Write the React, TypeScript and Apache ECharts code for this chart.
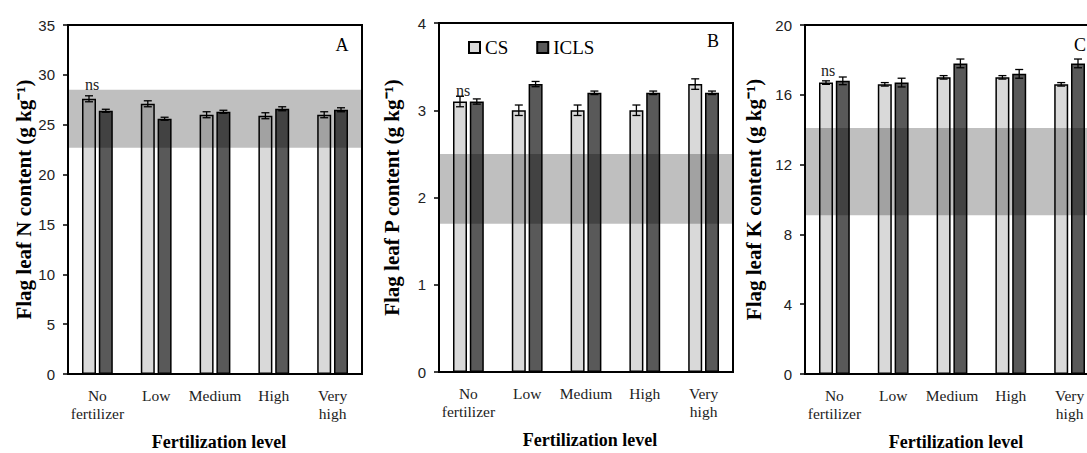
import React, { useEffect, useRef } from 'react';
import * as echarts from 'echarts';

// ---------- data ----------
const categories = ['No\nfertilizer', 'Low', 'Medium', 'High', 'Very\nhigh'];
const seriesNames = ['CS', 'ICLS'];

// Panel A: N content
const nCS = [27.6, 27.1, 26.0, 25.9, 26.0];
const nCSErr = [0.3, 0.3, 0.3, 0.3, 0.3];
const nICLS = [26.4, 25.6, 26.3, 26.6, 26.5];
const nICLSErr = [0.15, 0.15, 0.15, 0.2, 0.2];
const nRange = [22.7, 28.5];
const nAxis = { max: 35, interval: 5 };

// Panel B: P content
const pCS = [3.1, 3.0, 3.0, 3.0, 3.3];
const pCSErr = [0.06, 0.06, 0.06, 0.06, 0.06];
const pICLS = [3.1, 3.3, 3.2, 3.2, 3.2];
const pICLSErr = [0.03, 0.03, 0.02, 0.02, 0.02];
const pRange = [1.7, 2.5];
const pAxis = { max: 4, interval: 1 };

// Panel C: K content
const kCS = [16.7, 16.6, 17.0, 17.0, 16.6];
const kCSErr = [0.1, 0.1, 0.1, 0.1, 0.1];
const kICLS = [16.8, 16.7, 17.8, 17.2, 17.8];
const kICLSErr = [0.22, 0.25, 0.25, 0.25, 0.25];
const kRange = [9.1, 14.1];
const kAxis = { max: 20, interval: 4 };

const yTitles = [
  'Flag leaf N content (g kg\u207B\u00B9)',
  'Flag leaf P content (g kg\u207B\u00B9)',
  'Flag leaf K content (g kg\u207B\u00B9)',
];
const xTitle = 'Fertilization level';
const panelLetters = ['A', 'B', 'C'];
const sigLabel = 'ns';

// ---------- styles ----------
const SERIF = "'Liberation Serif', 'Times New Roman', serif";
const SANS = "'Liberation Sans', Arial, sans-serif";
const COLORS = ['#d9d9d9', '#595959'];
const BAR_W = 14;
const BAR_GAP = 0.2;
const OFFSET = (BAR_W * (1 + BAR_GAP)) / 2;

const panels = [
  { cs: nCS, csErr: nCSErr, icls: nICLS, iclsErr: nICLSErr, range: nRange, axis: nAxis },
  { cs: pCS, csErr: pCSErr, icls: pICLS, iclsErr: pICLSErr, range: pRange, axis: pAxis },
  { cs: kCS, csErr: kCSErr, icls: kICLS, iclsErr: kICLSErr, range: kRange, axis: kAxis },
];

const layout = [
  { left: 68, top: 25, nameGap: 30, letter: [342, 45], ns: [92, 84] },
  { left: 439, top: 23, nameGap: 37, letter: [713, 41], ns: [463, 90] },
  { left: 805, top: 25, nameGap: 41, letter: [1080, 45], ns: [828, 70] },
];
const GRID_W = 294;
const GRID_H = 349;

function errorSeries(values: number[], errs: number[], gi: number, offset: number, name: string) {
  return {
    type: 'custom',
    name,
    xAxisIndex: gi,
    yAxisIndex: gi,
    z: 20,
    silent: true,
    encode: { x: 0, y: 1 },
    data: values.map((v, i) => [i, v, errs[i]]),
    renderItem: (params: any, api: any) => {
      const idx = api.value(0);
      const v = api.value(1);
      const e = api.value(2);
      const top = api.coord([idx, v + e]);
      const bot = api.coord([idx, v - e]);
      const x = top[0] + offset;
      const cap = 4;
      const style = { stroke: '#000', lineWidth: 1.3, fill: 'none' };
      return {
        type: 'group',
        children: [
          { type: 'line', shape: { x1: x, y1: top[1], x2: x, y2: bot[1] }, style },
          { type: 'line', shape: { x1: x - cap, y1: top[1], x2: x + cap, y2: top[1] }, style },
          { type: 'line', shape: { x1: x - cap, y1: bot[1], x2: x + cap, y2: bot[1] }, style },
        ],
      };
    },
  };
}

function bandSeries(range: number[], gi: number) {
  return {
    type: 'custom',
    name: 'band-' + gi,
    xAxisIndex: gi,
    yAxisIndex: gi,
    z: 10,
    silent: true,
    encode: { x: 0, y: [1, 2] },
    data: [[0, range[0], range[1]]],
    renderItem: (params: any, api: any) => {
      const cs = params.coordSys;
      const lo = api.coord([0, api.value(1)])[1];
      const hi = api.coord([0, api.value(2)])[1];
      return {
        type: 'rect',
        shape: { x: cs.x, y: hi, width: cs.width, height: lo - hi },
        style: { fill: 'rgba(0,0,0,0.25)' },
      };
    },
  };
}

export default function App() {
  const ref = useRef<HTMLDivElement>(null);

  useEffect(() => {
    if (!ref.current) return;
    const chart = echarts.init(ref.current, undefined, { renderer: 'svg' });

    const grid: any[] = [];
    const xAxis: any[] = [];
    const yAxis: any[] = [];
    const series: any[] = [];
    const graphic: any[] = [];

    panels.forEach((p, gi) => {
      const L = layout[gi];
      grid.push({
        left: L.left,
        top: L.top,
        width: GRID_W,
        height: GRID_H,
        containLabel: false,
        outerBoundsMode: 'none',
        show: true,
        borderColor: '#000',
        borderWidth: 2,
        backgroundColor: 'transparent',
      });
      xAxis.push({
        gridIndex: gi,
        type: 'category',
        data: categories,
        axisLine: { show: true, lineStyle: { color: '#000', width: 2 } },
        axisTick: { show: false },
        axisLabel: {
          interval: 0,
          fontFamily: SERIF,
          fontSize: 15.5,
          color: '#222',
          margin: 12,
          lineHeight: 18,
        },
        splitLine: { show: false },
        name: xTitle,
        nameLocation: 'middle',
        nameGap: 59,
        nameTextStyle: {
          fontFamily: SERIF,
          fontWeight: 'bold',
          fontSize: 18,
          color: '#000',
          padding: [0, 0, 0, 8],
        },
      });
      yAxis.push({
        gridIndex: gi,
        type: 'value',
        min: 0,
        max: p.axis.max,
        interval: p.axis.interval,
        name: yTitles[gi],
        nameLocation: 'middle',
        nameGap: L.nameGap,
        nameTextStyle: {
          fontFamily: SERIF,
          fontWeight: 'bold',
          fontSize: 21,
          color: '#000',
        },
        axisLine: { show: true, lineStyle: { color: '#000', width: 2 } },
        axisTick: { show: true, length: 5, lineStyle: { color: '#000', width: 1.5 } },
        axisLabel: { fontFamily: SANS, fontSize: 15, color: '#222', margin: 13 },
        splitLine: { show: false },
      });

      const vals = [p.cs, p.icls];
      vals.forEach((v, si) => {
        series.push({
          type: 'bar',
          name: seriesNames[si],
          xAxisIndex: gi,
          yAxisIndex: gi,
          data: v,
          barWidth: BAR_W,
          barGap: BAR_GAP * 100 + '%',
          itemStyle: { color: COLORS[si], borderColor: '#000', borderWidth: 1.5 },
          silent: true,
        });
      });
      series.push(bandSeries(p.range, gi));
      series.push(errorSeries(p.cs, p.csErr, gi, -OFFSET, 'err-cs-' + gi));
      series.push(errorSeries(p.icls, p.iclsErr, gi, OFFSET, 'err-icls-' + gi));

      graphic.push({
        type: 'text',
        x: L.letter[0],
        y: L.letter[1],
        z: 30,
        style: {
          text: panelLetters[gi],
          fontFamily: SERIF,
          fontSize: 18,
          fill: '#000',
          align: 'center',
          verticalAlign: 'middle',
        },
      });
      graphic.push({
        type: 'text',
        x: L.ns[0],
        y: L.ns[1],
        z: 30,
        style: {
          text: sigLabel,
          fontFamily: SERIF,
          fontSize: 16,
          fill: '#222',
          align: 'center',
          verticalAlign: 'middle',
        },
      });
    });

    chart.setOption({
      animation: false,
      backgroundColor: '#fff',
      legend: {
        data: seriesNames,
        left: 463,
        top: 33,
        icon: 'rect',
        itemWidth: 11,
        itemHeight: 11,
        itemGap: 28,
        selectedMode: false,
        textStyle: { fontFamily: SERIF, fontSize: 19, color: '#000' },
      },
      grid,
      xAxis,
      yAxis,
      series,
      graphic,
    });

    return () => chart.dispose();
  }, []);

  return (
    <div
      ref={ref}
      style={{ position: 'fixed', left: 0, top: 0, width: 1087, height: 453, background: '#fff' }}
    />
  );
}
